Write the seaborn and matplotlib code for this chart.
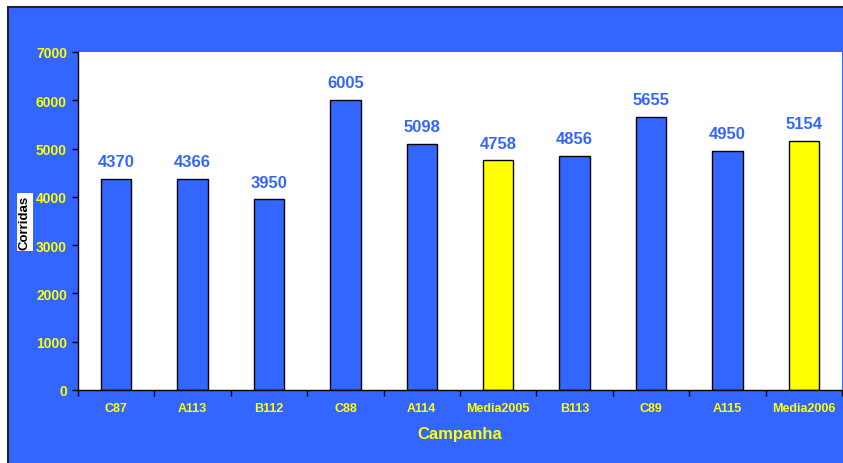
import matplotlib
matplotlib.use("Agg")
import matplotlib.pyplot as plt
from matplotlib.patches import Rectangle
from matplotlib.ticker import FixedLocator, NullFormatter
import seaborn as sns
import pandas as pd

campanhas = ["C87", "A113", "B112", "C88", "A114", "Media2005",
             "B113", "C89", "A115", "Media2006"]
corridas = [4370, 4366, 3950, 6005, 5098, 4758, 4856, 5655, 4950, 5154]
tipo = ["Campanha", "Campanha", "Campanha", "Campanha", "Campanha", "Media",
        "Campanha", "Campanha", "Campanha", "Media"]
y_ticks = [0, 1000, 2000, 3000, 4000, 5000, 6000, 7000]

BLUE = "#3366FF"
YELLOW = "#FFFF00"

sns.set_style("white")
plt.rcParams["font.family"] = ["Liberation Sans", "DejaVu Sans"]

df = pd.DataFrame({"Campanha": campanhas, "Corridas": corridas, "Tipo": tipo})

fig = plt.figure(figsize=(8.43, 4.64), dpi=100)
fig.patch.set_facecolor("white")

# blue frame behind the plot area
frame = Rectangle((8 / 843, -0.01), 1.0, (464 - 8) / 464 + 0.01,
                  transform=fig.transFigure, facecolor=BLUE,
                  edgecolor="#222222", linewidth=1.5, zorder=-10)
fig.add_artist(frame)

ax = fig.add_axes([78 / 843, (464 - 391) / 464, 764 / 843, 338 / 464])
ax.set_zorder(1)
ax.set_facecolor("white")

sns.barplot(data=df, x="Campanha", y="Corridas", hue="Tipo",
            palette={"Campanha": BLUE, "Media": YELLOW}, dodge=False,
            saturation=1, width=0.4, edgecolor="black", linewidth=1.0,
            legend=False, ax=ax)

ax.set_xlim(-0.5, len(campanhas) - 0.5)
ax.set_ylim(0, 7000)
ax.set_yticks(y_ticks)
ax.set_yticklabels([str(v) for v in y_ticks], color=YELLOW,
                   fontsize=10, fontweight="bold")
ax.set_xticks(range(len(campanhas)))
ax.set_xticklabels(campanhas, color=YELLOW, fontsize=9, fontweight="bold")
ax.tick_params(axis="x", which="major", length=0, pad=9)
ax.xaxis.set_minor_locator(FixedLocator([i - 0.5 for i in range(len(campanhas) + 1)]))
ax.xaxis.set_minor_formatter(NullFormatter())
ax.tick_params(axis="x", which="minor", length=4, width=1, color="black",
               direction="out", bottom=True)
ax.tick_params(axis="y", length=4, width=1, color="black", direction="out",
               left=True, pad=4)

for s in ["top", "right"]:
    ax.spines[s].set_visible(False)
for s in ["left", "bottom"]:
    ax.spines[s].set_color("black")
    ax.spines[s].set_linewidth(1.0)

for i, v in enumerate(corridas):
    ax.annotate(str(v), (i, v), xytext=(0, 7), textcoords="offset points",
                ha="center", va="bottom", color=BLUE, fontsize=12,
                fontweight="bold")

ax.set_xlabel("Campanha", color=YELLOW, fontsize=12, fontweight="bold",
              labelpad=8)
ax.set_ylabel("")
fig.text(25 / 843, 1 - 223 / 464, "Corridas", rotation=90, ha="center",
         va="center", fontsize=9.5, fontweight="bold", color="black",
         bbox=dict(facecolor="white", edgecolor="none", pad=1.5))

fig.savefig("out.png", dpi=100)
